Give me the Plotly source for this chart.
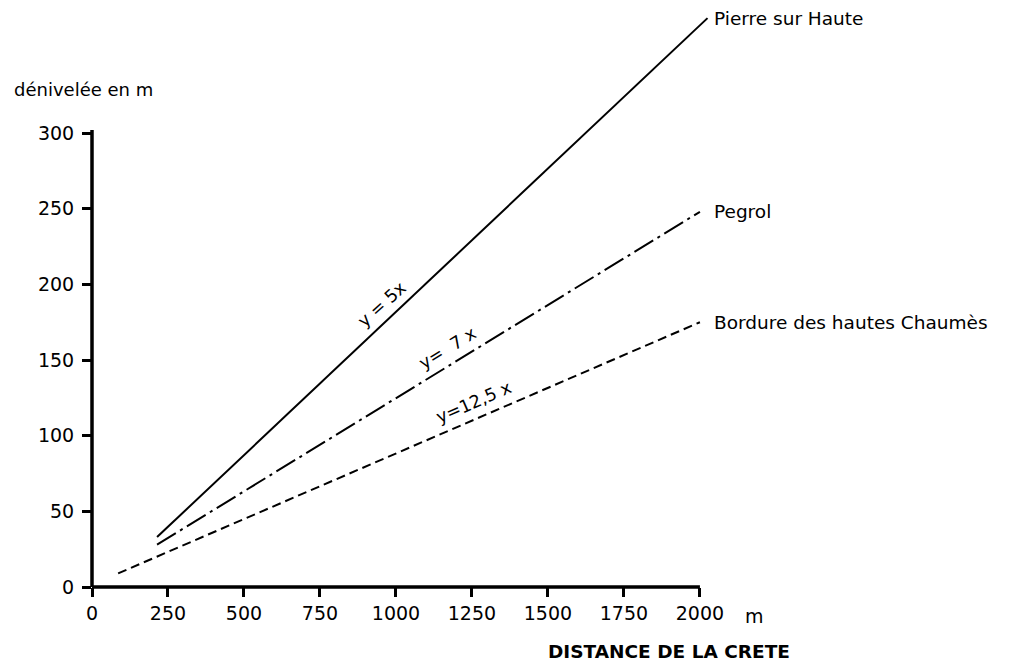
import plotly.graph_objects as go

# profiles: start / end of each line (distance in m, denivelee in m)
names = ["Pierre sur Haute", "Pegrol", "Bordure des hautes Chaumès"]
x_start = [214, 214, 86]
y_start = [33, 28, 9]
x_end = [2025, 2000, 2000]
y_end = [376, 248, 175]
slope_labels = ["y = 5x", "y=  7 x", "y=12,5 x"]
label_x = [955, 1170, 1258]
label_y = [187, 158, 122]

x_ticks = [0, 250, 500, 750, 1000, 1250, 1500, 1750, 2000]
y_ticks = [0, 50, 100, 150, 200, 250, 300]

FONT = "DejaVu Sans, Liberation Sans, sans-serif"
dashes = ["solid", "22px,5px,3px,5px", "9px,5px"]
angles = [-42, -31.5, -23.4]

fig = go.Figure()
for i, name in enumerate(names):
    fig.add_trace(go.Scatter(
        x=[x_start[i], x_end[i]],
        y=[y_start[i], y_end[i]],
        mode="lines",
        line=dict(color="black", width=2, dash=dashes[i]),
        name=name,
        showlegend=False,
    ))
    # name to the right of the line end
    fig.add_annotation(x=2040, y=y_end[i], text=name, showarrow=False,
                       xanchor="left", yanchor="middle",
                       font=dict(size=18.5, color="black", family=FONT))
    # slope text along the line
    fig.add_annotation(x=label_x[i], y=label_y[i], text=slope_labels[i],
                       showarrow=False, textangle=angles[i],
                       font=dict(size=17.5, color="black", family=FONT))

# axis lines, stopping at 2000 m and 300 m
fig.add_shape(type="line", xref="paper", yref="y", x0=0, x1=0, y0=0, y1=302,
              line=dict(color="black", width=3.5))
fig.add_shape(type="line", xref="x", yref="paper", x0=0, x1=2000, y0=0, y1=0,
              line=dict(color="black", width=3.5))

fig.add_annotation(xref="paper", yref="y", x=-0.087, y=329, text="dénivelée en m",
                   showarrow=False, xanchor="left", yanchor="middle",
                   font=dict(size=18, color="black", family=FONT))
fig.add_annotation(xref="x", yref="paper", x=2141, y=0, yshift=-29, text="m",
                   showarrow=False, xanchor="left", yanchor="middle",
                   font=dict(size=19, color="black", family=FONT))
fig.add_annotation(xref="x", yref="paper", x=1898, y=0, yshift=-64,
                   text="<b>DISTANCE DE LA CRETE</b>", showarrow=False,
                   xanchor="center", yanchor="middle",
                   font=dict(size=18.5, color="black", family=FONT))

fig.update_xaxes(range=[0, 3030], tickvals=x_ticks, ticks="outside", ticklen=9,
                 tickwidth=2.5, tickcolor="black", showline=False, showgrid=False,
                 zeroline=False, tickfont=dict(size=19, color="black", family=FONT))
fig.update_yaxes(range=[0, 382.7], tickvals=y_ticks, ticks="outside", ticklen=9,
                 tickwidth=2.5, tickcolor="black", showline=False, showgrid=False,
                 zeroline=False, ticklabelstandoff=4,
                 tickfont=dict(size=19, color="black", family=FONT))

# page body adds an 8px offset, so the figure is drawn 8px smaller
fig.update_layout(width=1005, height=655, margin=dict(l=84, r=0, t=0, b=76),
                  plot_bgcolor="white", paper_bgcolor="white")

fig.write_html("out.html")
